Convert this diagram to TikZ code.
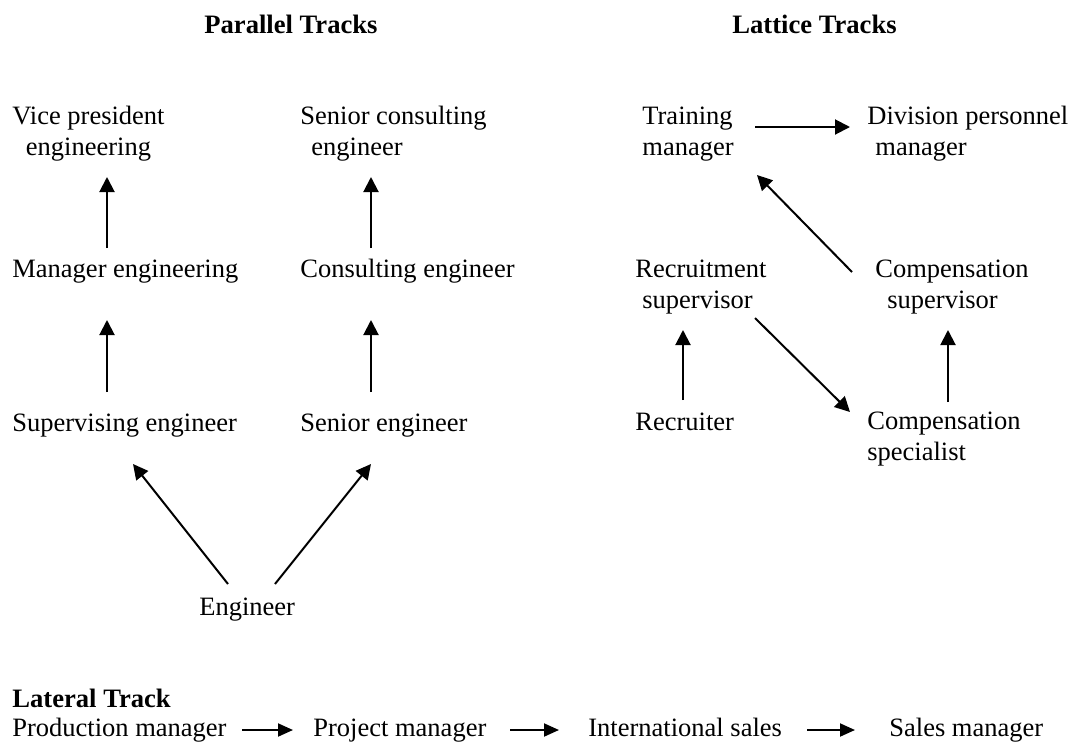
\documentclass[tikz,border=0pt]{standalone}
\usepackage{fontspec}
\setmainfont{Liberation Serif}
\usetikzlibrary{arrows.meta,calc}
\begin{document}
\begin{tikzpicture}[x=0.5pt,y=-0.5pt,
  txt/.style={anchor=base west,inner sep=0pt,align=left,font=\fontsize{13.25pt}{15.5pt}\selectfont},
  head/.style={anchor=base west,inner sep=0pt,font=\fontsize{13.3pt}{16pt}\selectfont\bfseries},
  link/.style={line width=1pt,-{Triangle[length=7.5pt,width=7.5pt]}},
  slim/.style={line width=1pt,-{Triangle[length=7.5pt,width=6.5pt]}}]
 \useasboundingbox (0,0) rectangle (1072,745);
 % headings
 \node[head] (ptitle) at (204,33) {Parallel Tracks};
 \node[head] (ltitle) at (732,33) {Lattice Tracks};
 \node[head] (rtitle) at (12,707) {Lateral Track};
 % parallel tracks (two-line nodes sit on their last line)
 \node[txt,align=center] (vp) at (12,155) {Vice president\\engineering};
 \node[txt] (sce) at (300,155) {Senior consulting\\\hspace*{5.5pt}engineer};
 \node[txt] (mgr) at (12,277) {Manager engineering};
 \node[txt] (ce) at (300,277) {Consulting engineer};
 \node[txt] (sup) at (12,431) {Supervising engineer};
 \node[txt] (se) at (300,431) {Senior engineer};
 \node[txt] (eng) at (199,615) {Engineer};
 \draw[link] ($(mgr.base west)+(95,-29)$) -- ($(vp.base west)+(95,22)$);
 \draw[link] ($(ce.base west)+(71,-29)$) -- ($(sce.base west)+(71,22)$);
 \draw[link] ($(sup.base west)+(95,-39)$) -- ($(mgr.base west)+(95,43)$);
 \draw[link] ($(se.base west)+(71,-39)$) -- ($(ce.base west)+(71,43)$);
 \draw[link] ($(eng.base west)+(29,-31)$) -- ($(sup.base west)+(121,33)$);
 \draw[link] ($(eng.base west)+(76,-31)$) -- ($(se.base west)+(71,33)$);
 % lattice tracks
 \node[txt] (tm) at (642,155) {Training\\manager};
 \node[txt] (dpm) at (867,155) {Division personnel\\\hspace*{4pt}manager};
 \node[txt] (rs) at (635,308) {Recruitment\\\hspace*{3.5pt}supervisor};
 \node[txt] (cs) at (875,308) {Compensation\\\hspace*{6pt}supervisor};
 \node[txt] (rec) at (635,430) {Recruiter};
 \node[txt] (csp) at (867,460) {Compensation\\specialist};
 \draw[link] ($(tm.base west)+(113,-28)$) -- ($(dpm.base west)+(-17,-28)$);
 \draw[link] ($(cs.base west)+(-23,-36)$) -- ($(tm.base west)+(115,20)$);
 \draw[link] ($(rs.base west)+(120,10)$) -- ($(csp.base west)+(-17,-48)$);
 \draw[link] ($(rec.base west)+(48,-30)$) -- ($(rs.base west)+(48,22)$);
 \draw[link] ($(csp.base west)+(81,-58)$) -- ($(cs.base west)+(73,22)$);
 % lateral track
 \node[txt] (prod) at (12,736) {Production manager};
 \node[txt] (proj) at (313,736) {Project manager};
 \node[txt] (intl) at (588,736) {International sales};
 \node[txt] (sales) at (889,736) {Sales manager};
 \draw[slim] ($(prod.base west)+(230,-6)$) -- ($(proj.base west)+(-20,-6)$);
 \draw[slim] ($(proj.base west)+(197,-6)$) -- ($(intl.base west)+(-29,-6)$);
 \draw[slim] ($(intl.base west)+(219,-6)$) -- ($(sales.base west)+(-34,-6)$);
\end{tikzpicture}
\end{document}
